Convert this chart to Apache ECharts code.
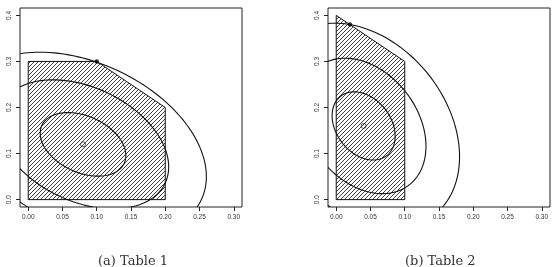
<!DOCTYPE html>
<html>
<head>
<meta charset="utf-8">
<script src="https://cdn.jsdelivr.net/npm/echarts@6/dist/echarts.min.js"></script>
<style>html,body{margin:0;padding:0;background:#fff}#main{width:557px;height:267px}</style>
</head>
<body>
<div id="main"></div>
<script>
// axis ticks
var xTicks = [0, 0.05, 0.1, 0.15, 0.2, 0.25, 0.3];
var yTicks = [0, 0.1, 0.2, 0.3, 0.4];

// hatched region, panel a / b
var polyA_x = [0, 0.2, 0.2, 0.1, 0];
var polyA_y = [0, 0, 0.2, 0.3, 0.3];
var polyB_x = [0, 0.1, 0.1, 0];
var polyB_y = [0, 0, 0.3, 0.4];

// contour ellipses: centre, half width (x), half height (y), correlation
var centreA = [0.08, 0.12];
var halfXA = [0.0625, 0.125, 0.18];
var halfYA = [0.069, 0.14, 0.2];
var rhoA = -0.35;
var optA = [0.1, 0.3];

var centreB = [0.04, 0.16];
var halfXB = [0.046, 0.091, 0.14];
var halfYB = [0.074, 0.147, 0.223];
var rhoB = -0.3;
var optB = [0.02, 0.38];

var captions = ['(a) Table 1', '(b) Table 2'];

// hatch pattern (45 deg lines)
var hatch = document.createElement('canvas');
hatch.width = 8; hatch.height = 8;
var hc = hatch.getContext('2d');
hc.strokeStyle = '#2a2a2a';
hc.lineWidth = 0.9;
for (var c = -8; c <= 8; c += 4) {
	hc.beginPath();
	hc.moveTo(c, 8);
	hc.lineTo(c + 8, 0);
	hc.stroke();
}

function polyRender(xs, ys) {
	return function(params, api) {
		if (params.dataIndex !== 0) return null;
		var pts = [];
		for (var i = 0; i < xs.length; i++) {
			pts.push(api.coord([xs[i], ys[i]]));
		}
		return {
			type: 'polygon',
			shape: {points: pts},
			style: {fill: {image: hatch, repeat: 'repeat'}, stroke: '#111', lineWidth: 1}
		};
	};
}

function ellipseRender(params, api) {
	var cx = api.value(0), cy = api.value(1), ax = api.value(2), ay = api.value(3), rho = api.value(4);
	var d = Math.acos(rho);
	var pts = [];
	for (var i = 0; i <= 160; i++) {
		var t = i / 160 * 2 * Math.PI;
		pts.push(api.coord([cx + ax * Math.cos(t), cy + ay * Math.cos(t + d)]));
	}
	return {type: 'polyline', shape: {points: pts}, style: {stroke: '#111', lineWidth: 1.1, fill: null}};
}

function ellipseData(centre, hx, hy, rho) {
	var out = [];
	for (var i = 0; i < hx.length; i++) {
		out.push([centre[0], centre[1], hx[i], hy[i], rho]);
	}
	return out;
}

function vertices(xs, ys) {
	var out = [];
	for (var i = 0; i < xs.length; i++) out.push([xs[i], ys[i]]);
	return out;
}

var lblFont = {fontFamily: 'Liberation Sans', fontSize: 6.5, color: '#333'};

function xAx(idx) {
	return {
		type: 'value', gridIndex: idx, min: -0.012, max: 0.312,
		splitLine: {show: false},
		axisLine: {show: false, onZero: false},
		axisTick: {show: true, customValues: xTicks, length: 4, lineStyle: {color: '#222', width: 1}},
		axisLabel: Object.assign({customValues: xTicks, margin: 7, formatter: function(v) { return v.toFixed(2); }}, lblFont)
	};
}
function yAx(idx) {
	return {
		type: 'value', gridIndex: idx, min: -0.016, max: 0.416,
		splitLine: {show: false},
		axisLine: {show: false, onZero: false},
		axisTick: {show: true, customValues: yTicks, length: 4, lineStyle: {color: '#222', width: 1}},
		axisLabel: Object.assign({customValues: yTicks, margin: 7, rotate: 90, formatter: function(v) { return v.toFixed(1); }}, lblFont)
	};
}

var capStyle = {fontFamily: 'DejaVu Serif', fontSize: 13, fontWeight: 'normal', color: '#333'};

var myChart = echarts.init(document.getElementById('main'));
var option = {
	animation: false,
	title: [
		{text: captions[0], left: 93, top: 250, textStyle: capStyle},
		{text: captions[1], left: 400, top: 250, textStyle: capStyle}
	],
	grid: [
		{left: 20, top: 8, width: 222, height: 199, show: true, borderColor: '#222', borderWidth: 1, backgroundColor: 'transparent'},
		{left: 328, top: 8, width: 222, height: 199, show: true, borderColor: '#222', borderWidth: 1, backgroundColor: 'transparent'}
	],
	xAxis: [xAx(0), xAx(1)],
	yAxis: [yAx(0), yAx(1)],
	series: [{
		type: 'custom', xAxisIndex: 0, yAxisIndex: 0, clip: true,
		renderItem: polyRender(polyA_x, polyA_y),
		data: vertices(polyA_x, polyA_y)
	}, {
		type: 'custom', xAxisIndex: 0, yAxisIndex: 0, clip: true,
		renderItem: ellipseRender,
		data: ellipseData(centreA, halfXA, halfYA, rhoA)
	}, {
		type: 'scatter', xAxisIndex: 0, yAxisIndex: 0, symbolSize: 5,
		itemStyle: {color: 'rgba(255,255,255,0)', borderColor: '#222', borderWidth: 0.9},
		data: [centreA]
	}, {
		type: 'scatter', xAxisIndex: 0, yAxisIndex: 0, symbolSize: 4.5,
		itemStyle: {color: '#000'},
		data: [optA]
	}, {
		type: 'custom', xAxisIndex: 1, yAxisIndex: 1, clip: true,
		renderItem: polyRender(polyB_x, polyB_y),
		data: vertices(polyB_x, polyB_y)
	}, {
		type: 'custom', xAxisIndex: 1, yAxisIndex: 1, clip: true,
		renderItem: ellipseRender,
		data: ellipseData(centreB, halfXB, halfYB, rhoB)
	}, {
		type: 'scatter', xAxisIndex: 1, yAxisIndex: 1, symbolSize: 5,
		itemStyle: {color: 'rgba(255,255,255,0)', borderColor: '#222', borderWidth: 0.9},
		data: [centreB]
	}, {
		type: 'scatter', xAxisIndex: 1, yAxisIndex: 1, symbolSize: 4.5,
		itemStyle: {color: '#000'},
		data: [optB]
	}]
};
myChart.setOption(option, true);
</script>
</body>
</html>
